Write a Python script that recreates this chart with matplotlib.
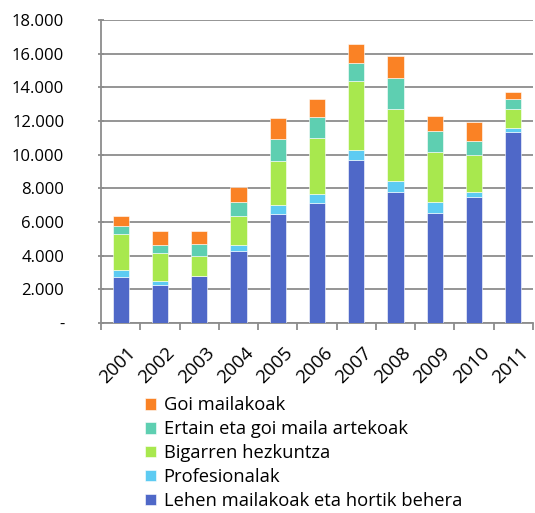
import numpy as np
import matplotlib
matplotlib.use('Agg')
import matplotlib.pyplot as plt
import matplotlib.transforms as mtransforms

plt.rcParams['font.family'] = ['Open Sans', 'DejaVu Sans']

# data
years = ['2001', '2002', '2003', '2004', '2005', '2006', '2007', '2008', '2009', '2010', '2011']
lehen = [2710, 2250, 2770, 4250, 6500, 7100, 9690, 7770, 6560, 7480, 11370]
profesionalak = [410, 220, 40, 360, 520, 560, 600, 670, 640, 310, 240]
bigarren = [2160, 1690, 1190, 1760, 2610, 3340, 4080, 4270, 2970, 2200, 1090]
ertain = [490, 490, 670, 790, 1290, 1260, 1100, 1860, 1230, 810, 590]
goi = [600, 830, 770, 930, 1280, 1030, 1110, 1270, 870, 1130, 450]

series = [
    ('Lehen mailakoak eta hortik behera', lehen, '#4F68C8'),
    ('Profesionalak', profesionalak, '#5DCBF2'),
    ('Bigarren hezkuntza', bigarren, '#A8E84E'),
    ('Ertain eta goi maila artekoak', ertain, '#5ECFB1'),
    ('Goi mailakoak', goi, '#FA8225'),
]

fig = plt.figure(figsize=(5.35, 5.13), dpi=100, facecolor='w')
ax = fig.add_axes([101 / 535, 1 - 323 / 513, 432 / 535, 303 / 513])

x = np.arange(len(years))
bottom = np.zeros(len(years))
handles = []
for name, vals, col in series:
    b = ax.bar(x, vals, width=0.41, bottom=bottom, color=col, label=name,
               edgecolor='#ffffff', linewidth=0.4, zorder=3)
    handles.append(b)
    bottom += np.array(vals)

ax.set_xlim(-0.5, len(years) - 0.5)
ax.set_ylim(0, 18000)
ax.set_yticks(np.arange(0, 18001, 2000))
ax.set_yticklabels(['-'] + [f'{v:,}'.replace(',', '.') for v in range(2000, 18001, 2000)])
ax.yaxis.grid(True, color='#8c8c8c', linewidth=1.3, zorder=0)

ax.set_xticks(x)
ax.set_xticklabels(years, rotation=45, ha='right', va='top', rotation_mode='anchor')
ax.set_xticks(np.arange(-0.5, len(years), 1), minor=True)
ax.tick_params(axis='x', which='major', length=0, labelsize=13.5, pad=15)
ax.tick_params(axis='x', which='minor', length=5, color='#8c8c8c', width=1.3, direction='out')
ax.tick_params(axis='y', length=5, color='#8c8c8c', width=1.3, direction='inout', labelsize=12, pad=24)

# shift year labels a little to the right, like the original
shift = mtransforms.ScaledTranslation(6 / 100, 0, fig.dpi_scale_trans)
for lab in ax.get_xticklabels():
    lab.set_transform(lab.get_transform() + shift)

for s in ['top', 'right']:
    ax.spines[s].set_visible(False)
for s in ['left', 'bottom']:
    ax.spines[s].set_color('#8c8c8c')
    ax.spines[s].set_linewidth(1.3)

fig.legend(handles[::-1], [s[0] for s in series][::-1], loc='upper left',
           bbox_to_anchor=(138 / 535, 1 - 389 / 513), frameon=False,
           fontsize=13.2, handlelength=0.6, handleheight=0.6, handletextpad=0.4,
           labelspacing=0.32, borderaxespad=0)

plt.savefig('out.png', dpi=100, facecolor='w')
